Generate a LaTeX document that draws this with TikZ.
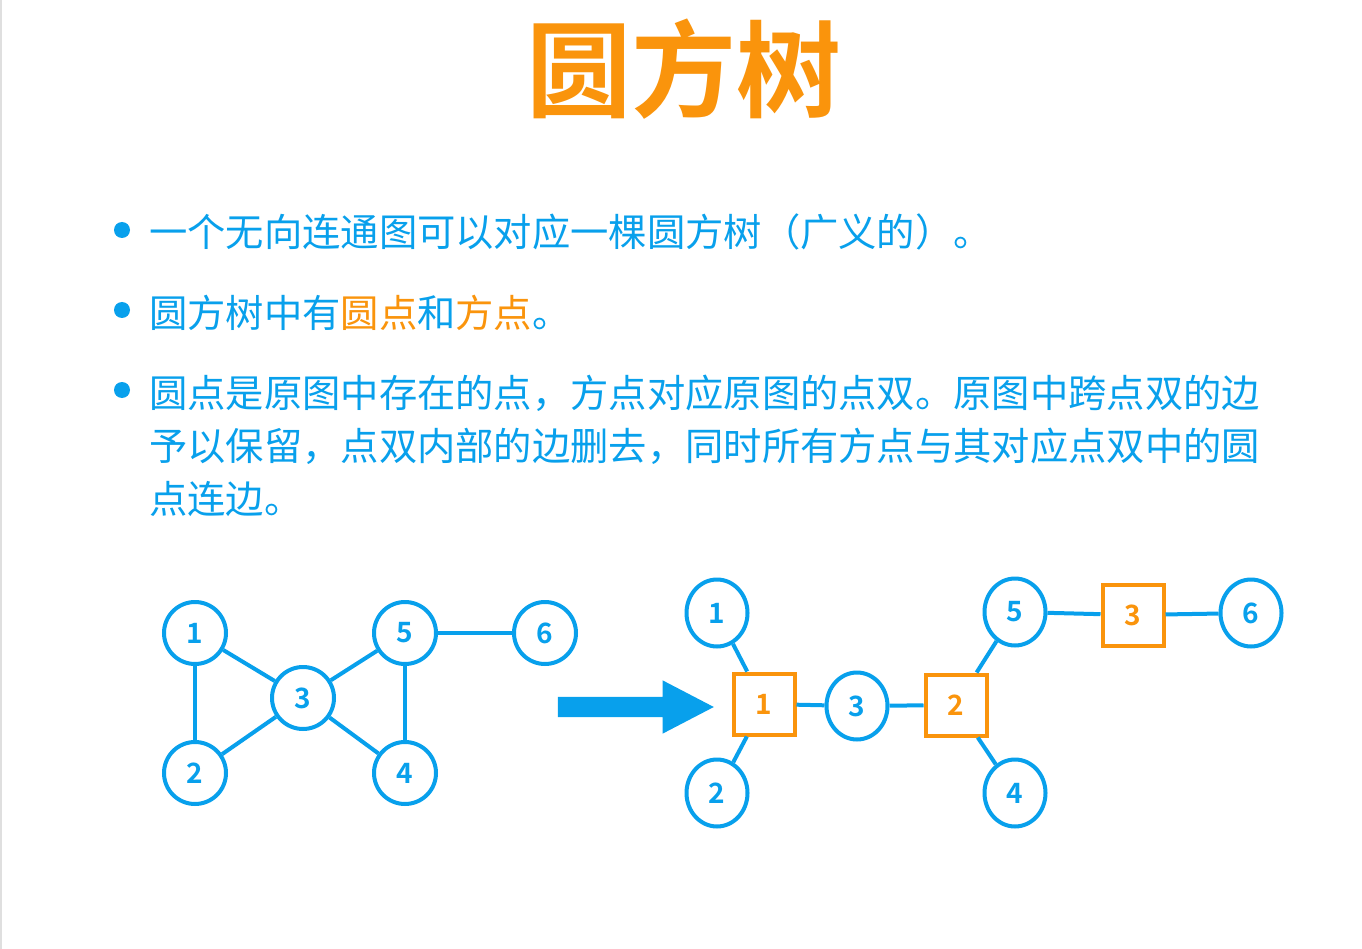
\documentclass[tikz,border=0pt]{standalone}
\usepackage{fontspec}
\newfontfamily\cjk{Noto Sans CJK SC}[BoldFont={Noto Sans CJK SC Bold}]
\usetikzlibrary{positioning,shapes.geometric,shapes.arrows}
\definecolor{treeblue}{RGB}{8,160,236}
\definecolor{treeorange}{RGB}{250,148,12}
\tikzset{
    roundnode/.style={circle, draw=treeblue, line width=4pt, minimum size=62pt, inner sep=0pt, text=treeblue, font=\cjk\bfseries\fontsize{28}{28}\selectfont},
    ovalnode/.style={ellipse, draw=treeblue, line width=4pt, minimum width=61pt, minimum height=67pt, inner sep=0pt, text=treeblue, font=\cjk\bfseries\fontsize{28}{28}\selectfont},
    squarenode/.style={rectangle, draw=treeorange, line width=4pt, minimum size=61pt, inner sep=0pt, text=treeorange, font=\cjk\bfseries\fontsize{28}{28}\selectfont},
    link/.style={draw=treeblue, line width=4pt},
    bullettext/.style={anchor=base west, inner sep=0pt, text=treeblue, font=\cjk\fontsize{38.3}{38.3}\selectfont},
    bulletdot/.style={circle, fill=treeblue, minimum size=16pt, inner sep=0pt}
}
\begin{document}
\begin{tikzpicture}[x=1pt, y=-1pt, node distance=140pt]
    \useasboundingbox (0,0) rectangle (1362,949);
    \fill[white] (0,0) rectangle (1362,949);
    \draw[gray!25, line width=2pt] (1,0) -- (1,949);

    % Title
    \node [anchor=base, inner sep=0pt, text=treeorange, font=\cjk\bfseries\fontsize{105}{105}\selectfont] (title) at (684,110) {圆方树};

    % Bullets
    \node [bulletdot] (dota) at (122,230) {};
    \node [bulletdot] (dotb) at (122,310) {};
    \node [bulletdot] (dotc) at (122,390) {};
    \node [bullettext] (texta) at (149,247) {一个无向连通图可以对应一棵圆方树（广义的）。};
    \node [bullettext] (textb) at (149,327) {圆方树中有\textcolor{treeorange}{圆点}和\textcolor{treeorange}{方点}。};
    \node [bullettext] (textc) at (149,407) {圆点是原图中存在的点，方点对应原图的点双。原图中跨点双的边};
    \node [bullettext] (textd) at (149,460) {予以保留，点双内部的边删去，同时所有方点与其对应点双中的圆};
    \node [bullettext] (texte) at (149,513) {点连边。};

    % Graph
    \node [roundnode] (g1) at (195,633) {1};
    \node [roundnode, below of=g1] (g2) {2};
    \node [roundnode] (g3) at (303,698) {3};
    \node [roundnode, right of=g1, xshift=70pt] (g5) {5};
    \node [roundnode, below of=g5] (g4) {4};
    \node [roundnode, right of=g5] (g6) {6};

    \draw [link] (g1) -- (g2);
    \draw [link] (g1) -- (g3);
    \draw [link] (g2) -- (g3);
    \draw [link] (g3) -- (g5);
    \draw [link] (g3) -- (g4);
    \draw [link] (g5) -- (g4);
    \draw [link] (g5) -- (g6);

    % Arrow
    \node [single arrow, fill=treeblue, inner sep=10pt, minimum height=156pt, minimum width=53pt, single arrow head extend=16.5pt, single arrow tip angle=55] (arrow) at (626,707) {};

    % Tree
    \node [squarenode] (s1) at (764,704) {1};
    \node [ovalnode] (t1) at (717,613) {1};
    \node [ovalnode] (t2) at (717,793) {2};
    \node [ovalnode] (t3) at (857,706) {3};
    \node [squarenode] (s2) at (956,705) {2};
    \node [ovalnode] (t5) at (1015,612) {5};
    \node [ovalnode] (t4) at (1015,793) {4};
    \node [squarenode] (s3) at (1133,615) {3};
    \node [ovalnode] (t6) at (1251,613) {6};

    \draw [link] (t1) -- (s1);
    \draw [link] (t2) -- (s1);
    \draw [link] (s1) -- (t3);
    \draw [link] (t3) -- (s2);
    \draw [link] (s2) -- (t5);
    \draw [link] (s2) -- (t4);
    \draw [link] (t5) -- (s3);
    \draw [link] (s3) -- (t6);
\end{tikzpicture}
\end{document}
